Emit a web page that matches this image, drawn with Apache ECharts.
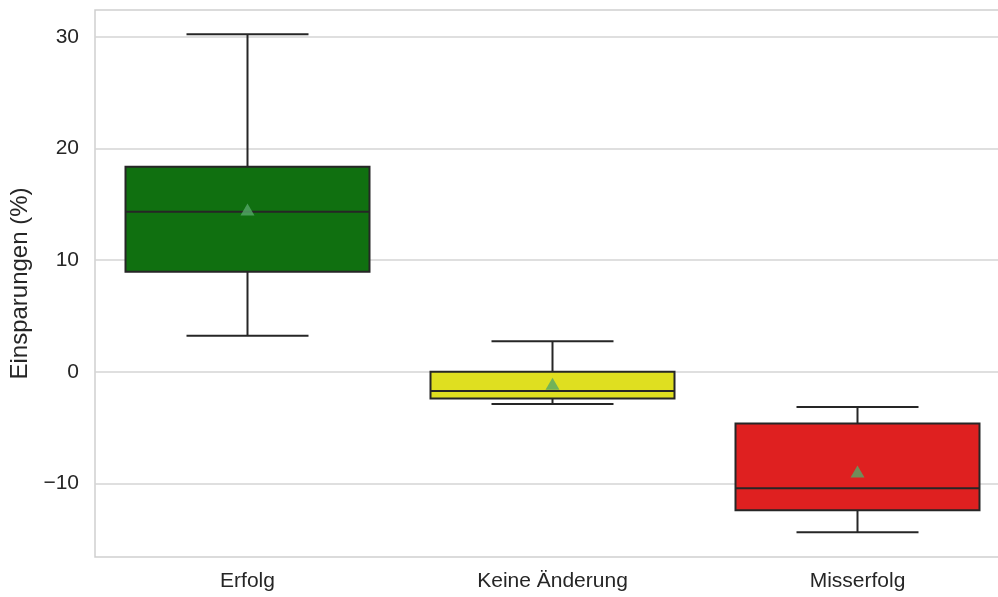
<!DOCTYPE html>
<html>
<head>
<meta charset="utf-8">
<script src="https://cdn.jsdelivr.net/npm/echarts@6/dist/echarts.min.js"></script>
<style>html,body{margin:0;padding:0;background:#fff;overflow:hidden}#c{width:1012px;height:597px}</style>
</head>
<body>
<div id="c"></div>
<script>
// Categories and box statistics
const categories = ['Erfolg', 'Keine Änderung', 'Misserfolg'];
const whiskerLow = [3.23, -2.89, -14.39];
const q1Values = [8.96, -2.39, -12.42];
const medians = [14.34, -1.73, -10.45];
const q3Values = [18.37, 0.0, -4.63];
const whiskerHigh = [30.23, 2.72, -3.16];
const means = [14.53, -1.07, -8.94];
const yTicks = [-10, 0, 10, 20, 30];
const boxColors = ['#107010', '#dfdf20', '#df2020'];

const EDGE = '#262626';
const boxData = categories.map((c, i) => [i, whiskerLow[i], q1Values[i], medians[i], q3Values[i], whiskerHigh[i]]);
const meanData = categories.map((c, i) => [i, means[i]]);

function renderBox(params, api) {
  const i = api.value(0);
  const band = api.size([1, 0])[0];
  const bw = band * 0.8;
  const cw = bw / 2;
  const x = api.coord([i, 0])[0];
  const yLo = api.coord([i, api.value(1)])[1];
  const yQ1 = api.coord([i, api.value(2)])[1];
  const yMed = api.coord([i, api.value(3)])[1];
  const yQ3 = api.coord([i, api.value(4)])[1];
  const yHi = api.coord([i, api.value(5)])[1];
  const ls = {stroke: EDGE, lineWidth: 2};
  return {
    type: 'group',
    children: [
      {type: 'line', shape: {x1: x, y1: yQ1, x2: x, y2: yLo}, style: ls},
      {type: 'line', shape: {x1: x, y1: yQ3, x2: x, y2: yHi}, style: ls},
      {type: 'line', shape: {x1: x - cw / 2, y1: yLo, x2: x + cw / 2, y2: yLo}, style: ls},
      {type: 'line', shape: {x1: x - cw / 2, y1: yHi, x2: x + cw / 2, y2: yHi}, style: ls},
      {type: 'rect', shape: {x: x - bw / 2, y: yQ3, width: bw, height: yQ1 - yQ3},
        style: {fill: boxColors[i], stroke: EDGE, lineWidth: 2}},
      {type: 'line', shape: {x1: x - bw / 2, y1: yMed, x2: x + bw / 2, y2: yMed}, style: ls}
    ]
  };
}

const chart = echarts.init(document.getElementById('c'), null, {renderer: 'canvas'});
chart.setOption({
  animation: false,
  backgroundColor: '#ffffff',
  grid: {left: 95, right: 2, top: 10, bottom: 40, show: true, borderColor: '#cfcfcf', borderWidth: 1.5, backgroundColor: 'transparent'},
  xAxis: {
    type: 'category',
    data: categories,
    boundaryGap: true,
    axisLine: {show: false},
    axisTick: {show: false},
    splitLine: {show: false},
    axisLabel: {color: '#262626', fontSize: 21, fontFamily: 'Liberation Sans, Arial, sans-serif', margin: 14}
  },
  yAxis: {
    type: 'value',
    min: -16.6,
    max: 32.41,
    name: 'Einsparungen (%)',
    nameLocation: 'middle',
    nameGap: 60,
    nameTextStyle: {color: '#262626', fontSize: 24, fontFamily: 'Liberation Sans, Arial, sans-serif'},
    axisLine: {show: false},
    axisTick: {show: false, customValues: yTicks},
    axisLabel: {color: '#262626', fontSize: 21, fontFamily: 'Liberation Sans, Arial, sans-serif', margin: 16,
      customValues: yTicks,
      formatter: v => (v < 0 ? '\u2212' + Math.abs(v) : String(v))},
    splitLine: {show: true, lineStyle: {color: '#d5d5d5', width: 1.5}}
  },
  series: [
    {type: 'custom', renderItem: renderBox, data: boxData, encode: {x: 0, y: [1, 5]}, z: 2},
    {type: 'scatter', data: meanData, symbol: 'triangle', symbolSize: [14, 12],
      itemStyle: {color: '#55a868'}, z: 3}
  ]
});
</script>
</body>
</html>
